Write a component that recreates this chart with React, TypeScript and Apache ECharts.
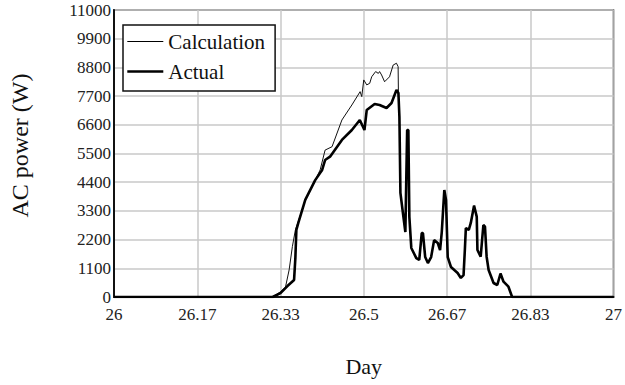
import React, { useEffect, useRef } from "react";
import * as echarts from "echarts";

// Day-of-month time axis (fractional days) and AC output in watts.
const calcDays = [
  26.0, 26.3175, 26.3333, 26.3433, 26.3506, 26.3571, 26.3631, 26.369, 26.3829,
  26.4028, 26.4127, 26.4226, 26.4365, 26.4563, 26.4762, 26.4927, 26.496, 26.5,
  26.506, 26.5119, 26.5159, 26.5238, 26.5292, 26.5317, 26.5357, 26.5417,
  26.5516, 26.5589, 26.5655, 26.5688, 26.5694,
];
const calcPower = [
  0, 0, 200, 380, 1035, 1930, 2570, 2900, 3720, 4480, 4870, 5630, 5760, 6785,
  7360, 7870, 7680, 8320, 8130, 8190, 8440, 8640, 8570, 8640, 8510, 8250, 8440,
  8890, 8960, 8830, 7820,
];

const actualMorningDays = [
  26.0, 26.3175, 26.3333, 26.3472, 26.3605, 26.3631, 26.3651, 26.369, 26.3829,
  26.4028, 26.4167, 26.4226, 26.4325, 26.4563, 26.4762, 26.4921, 26.5014,
  26.506, 26.5218, 26.5317, 26.5456, 26.5556, 26.5655, 26.5694,
];
const actualMorningPower = [
  0, 0, 150, 420, 650, 1500, 2570, 2840, 3720, 4480, 4870, 5250, 5380, 6020,
  6400, 6785, 6400, 7170, 7400, 7360, 7245, 7435, 7935, 7820,
];

// After the early-afternoon peak both curves follow the same measured trace.
const afternoonDays = [
  26.5714, 26.5734, 26.5794, 26.5833, 26.5869, 26.5893, 26.5913, 26.5952,
  26.6052, 26.6111, 26.6161, 26.6185, 26.623, 26.6284, 26.6349, 26.6409,
  26.6482, 26.6528, 26.6562, 26.6613, 26.6647, 26.6681, 26.6746, 26.6879,
  26.6944, 26.6998, 26.7024, 26.7044, 26.7103, 26.7143, 26.7208, 26.7262,
  26.7276, 26.7341, 26.7395, 26.7427, 26.746, 26.75, 26.7599, 26.7673, 26.7738,
  26.7798, 26.7897, 26.797, 27.0,
];
const afternoonPower = [
  6900, 3990, 3070, 2490, 6400, 6400, 3070, 1880, 1490, 1420, 2450, 2450, 1530,
  1300, 1530, 2180, 2070, 1800, 2490, 4100, 3720, 1530, 1150, 920, 730, 840,
  1800, 2640, 2570, 2840, 3500, 3080, 1800, 1545, 2760, 2700, 1545, 1035, 537,
  460, 900, 587, 395, 0, 0,
];

const yTicks = { min: 0, max: 11000, interval: 1100 };
const xTicks = { min: 26, max: 27, interval: 1 / 6 };

const seriesNames = ["Calculation", "Actual"];
const seriesWidths = [1, 2.6];

const pairs = (xs: number[], ys: number[]) => xs.map((x, i) => [x, ys[i]]);

const FONT = "Liberation Serif";

export default function App() {
  const ref = useRef<HTMLDivElement>(null);

  useEffect(() => {
    if (!ref.current) return;
    const chart = echarts.init(ref.current, undefined, { renderer: "svg" });

    const calcData = pairs(calcDays, calcPower).concat(
      pairs(afternoonDays, afternoonPower)
    );
    const actualData = pairs(actualMorningDays, actualMorningPower).concat(
      pairs(afternoonDays, afternoonPower)
    );

    // Tick labels go through a rich style so the serif face is applied.
    const tickRich = {
      t: { fontFamily: FONT, fontSize: 17, color: "#222" },
    };

    chart.setOption({
      animation: false,
      backgroundColor: "#ffffff",
      textStyle: { fontFamily: FONT },
      grid: {
        left: 110,
        right: 11,
        top: 10,
        bottom: 88,
        show: true,
        borderColor: "#333",
        borderWidth: 1.5,
      },
      legend: {
        orient: "vertical",
        left: 123,
        top: 25,
        data: seriesNames.map((name, i) => ({
          name,
          lineStyle: { width: seriesWidths[i], color: "#000" },
        })),
        itemWidth: 36,
        itemHeight: 14,
        itemGap: 9,
        itemStyle: { opacity: 0 },
        padding: [6, 10, 9, 3],
        borderColor: "#111",
        borderWidth: 1.5,
        backgroundColor: "#fff",
        textStyle: { fontFamily: FONT, fontSize: 21, color: "#111" },
      },
      xAxis: {
        type: "value",
        min: xTicks.min,
        max: xTicks.max,
        interval: xTicks.interval,
        name: "Day",
        nameLocation: "middle",
        nameGap: 58,
        nameTextStyle: { fontFamily: FONT, fontSize: 22, color: "#111" },
        axisLine: { show: true, onZero: false, lineStyle: { color: "#111", width: 2 } },
        axisTick: { show: false },
        axisLabel: {
          fontFamily: FONT,
          fontSize: 17,
          color: "#222",
          margin: 9,
          rich: tickRich,
          formatter: (v: number) => `{t|${Number(v.toFixed(2))}}`,
        },
        splitLine: { show: true, lineStyle: { color: "#c8c8c8", width: 1.5 } },
      },
      yAxis: {
        type: "value",
        min: yTicks.min,
        max: yTicks.max,
        interval: yTicks.interval,
        name: "AC power (W)",
        nameLocation: "middle",
        nameGap: 82,
        nameTextStyle: {
          fontFamily: FONT,
          fontSize: 24,
          color: "#111",
          padding: [0, 0, 0, 16],
        },
        axisLine: { show: true, lineStyle: { color: "#111", width: 2 } },
        axisTick: { show: false },
        axisLabel: {
          fontFamily: FONT,
          fontSize: 17,
          color: "#222",
          margin: 3,
          rich: tickRich,
          formatter: (v: number) => `{t|${Math.round(v)}}`,
        },
        splitLine: { show: true, lineStyle: { color: "#c8c8c8", width: 1.5 } },
      },
      series: [
        {
          name: seriesNames[0],
          type: "line",
          data: calcData,
          showSymbol: false,
          symbol: "none",
          color: "#111",
          lineStyle: { color: "#111", width: seriesWidths[0] },
          z: 3,
        },
        {
          name: seriesNames[1],
          type: "line",
          data: actualData,
          showSymbol: false,
          symbol: "none",
          color: "#000",
          lineStyle: { color: "#000", width: seriesWidths[1] },
          z: 4,
        },
      ],
    });

    return () => chart.dispose();
  }, []);

  return (
    <div
      ref={ref}
      style={{ position: "fixed", left: 0, top: 0, width: 625, height: 385 }}
    />
  );
}
